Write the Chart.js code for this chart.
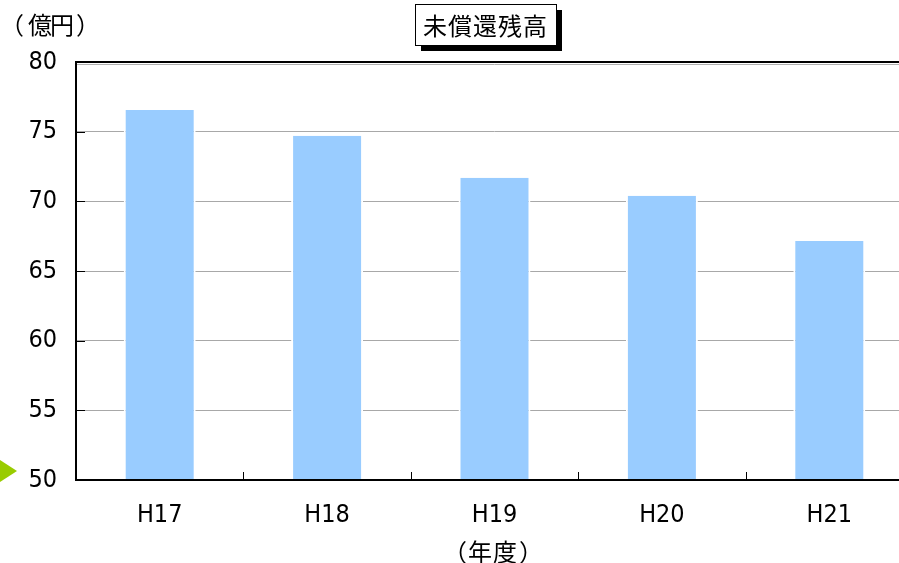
<!DOCTYPE html>
<html>
<head>
<meta charset="utf-8">
<script src="https://cdn.jsdelivr.net/npm/chart.js@4"></script>
<style>
  html, body { margin: 0; padding: 0; background: #fff; overflow: hidden; width: 899px; height: 563px; }
  canvas { display: block; }
</style>
</head>
<body>
<canvas id="c" width="915" height="563"></canvas>
<script>
// Outstanding balance by fiscal year (100 million yen)
const categories = ['H17', 'H18', 'H19', 'H20', 'H21'];
const balance = [76.55, 74.7, 71.7, 70.4, 67.15];
const yMin = 50;
const yMax = 80;
const yStep = 5;
const titleText = '未償還残高';
const unitLabel = '（億円）';
const xAxisLabel = '（年度）';

const FONT = '"Noto Sans CJK JP", "Noto Sans", sans-serif';
const NUM_FONT = '"Liberation Sans Narrow", "DejaVu Sans Condensed", "Noto Sans CJK JP", sans-serif';

// draw a full-width string one cell at a time
function drawCells(ctx, text, centers, y) {
  [...text].forEach((ch, i) => ctx.fillText(ch, centers[i], y));
}

// Axis frame, inward tick marks, boxed title and side labels
const decorations = {
  id: 'decorations',
  afterDraw(chart) {
    const { ctx, chartArea: a, scales } = chart;
    const xs = scales.x, ys = scales.y;
    ctx.save();

    // top frame line with soft shadow
    ctx.strokeStyle = '#b0b0b0';
    ctx.lineWidth = 1;
    ctx.beginPath(); ctx.moveTo(a.left, a.top + 2.5); ctx.lineTo(a.right, a.top + 2.5); ctx.stroke();
    ctx.strokeStyle = '#000';
    ctx.lineWidth = 2;
    ctx.beginPath(); ctx.moveTo(a.left, a.top); ctx.lineTo(a.right, a.top); ctx.stroke();

    // left and bottom axes
    ctx.beginPath();
    ctx.moveTo(a.left, a.top - 1);
    ctx.lineTo(a.left, a.bottom);
    ctx.lineTo(a.right, a.bottom);
    ctx.stroke();

    // inward ticks on the value axis
    ctx.lineWidth = 1;
    for (let v = yMin + yStep; v < yMax; v += yStep) {
      const y = Math.round(ys.getPixelForValue(v)) + 0.5;
      ctx.beginPath(); ctx.moveTo(a.left, y); ctx.lineTo(a.left + 9, y); ctx.stroke();
    }
    // inward ticks between categories
    for (let i = 1; i < categories.length; i++) {
      const x = Math.round((xs.getPixelForValue(i - 1) + xs.getPixelForValue(i)) / 2) + 0.5;
      ctx.beginPath(); ctx.moveTo(x, a.bottom); ctx.lineTo(x, a.bottom - 8); ctx.stroke();
    }

    // boxed title with drop shadow
    const bx = 415, by = 4, bw = 141, bh = 41, sh = 6;
    ctx.fillStyle = '#000';
    ctx.fillRect(bx + sh, by + sh, bw, bh);
    ctx.fillStyle = '#fff';
    ctx.fillRect(bx, by, bw, bh);
    ctx.strokeStyle = '#000';
    ctx.lineWidth = 1;
    ctx.strokeRect(bx + 0.5, by + 0.5, bw, bh);
    ctx.fillStyle = '#000';
    ctx.font = '24px ' + FONT;
    ctx.textBaseline = 'middle';
    ctx.textAlign = 'center';
    drawCells(ctx, titleText, [435, 460, 485, 510, 535], by + bh / 2 + 1);

    // unit label
    drawCells(ctx, unitLabel, [12, 40, 62, 88], 25);

    // category axis title
    drawCells(ctx, xAxisLabel, [455, 480, 505, 531], 552);

    // marker arrow at the baseline
    ctx.fillStyle = '#99cc00';
    ctx.beginPath();
    ctx.moveTo(0, 460);
    ctx.lineTo(17, 471);
    ctx.lineTo(0, 482);
    ctx.closePath();
    ctx.fill();

    ctx.restore();
  }
};

new Chart(document.getElementById('c'), {
  type: 'bar',
  data: {
    labels: categories,
    datasets: [{
      data: balance,
      backgroundColor: '#99ccff',
      borderColor: '#ffffff',
      borderWidth: { left: 2, right: 2, top: 0, bottom: 0 },
      borderSkipped: false,
      barPercentage: 0.43,
      categoryPercentage: 1.0
    }]
  },
  options: {
    responsive: false,
    animation: false,
    devicePixelRatio: 1,
    layout: { padding: { top: 62, right: 2, left: 0, bottom: 0 } },
    plugins: { legend: { display: false }, tooltip: { enabled: false }, title: { display: false } },
    scales: {
      x: {
        afterFit(scale) { scale.height = 83; },
        grid: { display: false, drawTicks: false },
        border: { display: false },
        ticks: { color: '#000', font: { family: NUM_FONT, size: 25 }, padding: 20 }
      },
      y: {
        min: yMin,
        max: yMax,
        afterFit(scale) { scale.width = 76; },
        grid: {
          drawTicks: false,
          color: c => (c.tick && (c.tick.value === yMin || c.tick.value === yMax)) ? 'rgba(0,0,0,0)' : '#a8a8a8',
          lineWidth: 1
        },
        border: { display: false },
        ticks: { stepSize: yStep, color: '#000', font: { family: NUM_FONT, size: 25 }, padding: 19 }
      }
    }
  },
  plugins: [decorations]
});
</script>
</body>
</html>
